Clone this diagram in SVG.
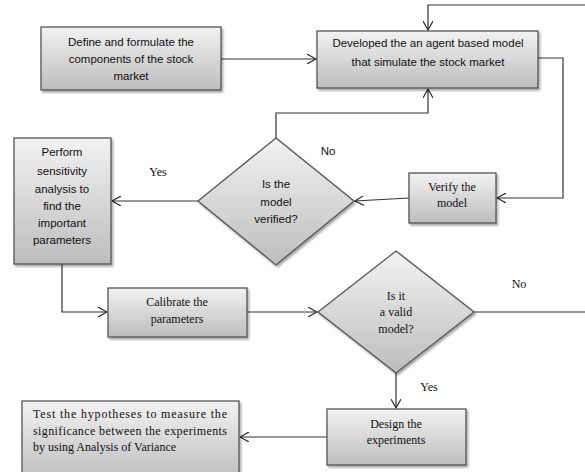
<svg xmlns="http://www.w3.org/2000/svg" width="585" height="472" viewBox="0 0 585 472">
<defs>
<linearGradient id="g" x1="0" y1="0" x2="0" y2="1">
<stop offset="0" stop-color="#f2f2f2"/>
<stop offset="1" stop-color="#bdbdbd"/>
</linearGradient>
<filter id="sh" x="-10%" y="-10%" width="130%" height="130%">
<feDropShadow dx="1.5" dy="2" stdDeviation="1.2" flood-color="#000" flood-opacity="0.35"/>
</filter>
<marker id="ah" viewBox="0 0 10 10" refX="9" refY="5" markerWidth="10" markerHeight="10" markerUnits="userSpaceOnUse" orient="auto">
<path d="M0,0 L9,5 L0,10" fill="none" stroke="#222" stroke-width="1.1"/>
</marker>
<style>
.box{fill:url(#g);stroke:#555;stroke-width:1.3;filter:url(#sh)}
.sans{font-family:"Liberation Sans",Arial,sans-serif;font-size:11.5px;fill:#111;text-anchor:middle}
.serif{font-family:"Liberation Serif","Times New Roman",serif;font-size:12px;fill:#111;text-anchor:middle}
.c{fill:none;stroke:#333;stroke-width:1.2}
</style>
</defs>
<rect width="585" height="472" fill="#fff"/>
<g id="connectors">
<path class="c" d="M221,59 H316" marker-end="url(#ah)"/>
<path class="c" d="M585,5 H428 V30" marker-end="url(#ah)"/>
<path class="c" d="M538,58 H563 V198 H497" marker-end="url(#ah)"/>
<path class="c" d="M409,198 L355,201" marker-end="url(#ah)"/>
<path class="c" d="M276,138 V113 H428 V89" marker-end="url(#ah)"/>
<path class="c" d="M198,201 H112" marker-end="url(#ah)"/>
<path class="c" d="M62,264 V312 H107" marker-end="url(#ah)"/>
<path class="c" d="M247,312 H317" marker-end="url(#ah)"/>
<path class="c" d="M474,312 H585"/>
<path class="c" d="M396,373 V408" marker-end="url(#ah)"/>
<path class="c" d="M327,437 H240" marker-end="url(#ah)"/>
<text class="sans" x="328" y="155">No</text>
<text class="serif" x="158" y="176">Yes</text>
<text class="serif" x="519" y="288">No</text>
<text class="serif" x="429" y="391">Yes</text>
</g>
<g id="define">
<rect class="box" x="41" y="27" width="180" height="63"/>
<text class="sans" x="131" y="46">Define and formulate the</text>
<text class="sans" x="131" y="63">components of the stock</text>
<text class="sans" x="131" y="80">market</text>
</g>
<g id="develop">
<rect class="box" x="317" y="31" width="221" height="57"/>
<text class="sans" x="428" y="47">Developed the an agent based model</text>
<text class="sans" x="428" y="66">that simulate the stock market</text>
</g>
<g id="verify">
<rect class="box" x="409" y="173" width="87" height="50"/>
<text class="serif" x="452" y="191">Verify the</text>
<text class="serif" x="452" y="207">model</text>
</g>
<g id="verified">
<polygon class="box" points="276,138 354,201 276,265 198,201"/>
<text class="sans" x="276" y="188">Is the</text>
<text class="sans" x="276" y="206">model</text>
<text class="sans" x="276" y="223">verified?</text>
</g>
<g id="sensitivity">
<rect class="box" x="14" y="138" width="97" height="126"/>
<text class="sans" x="62" y="156">Perform</text>
<text class="sans" x="62" y="175">sensitivity</text>
<text class="sans" x="62" y="193">analysis to</text>
<text class="sans" x="62" y="210">find the</text>
<text class="sans" x="62" y="227">important</text>
<text class="sans" x="62" y="244">parameters</text>
</g>
<g id="calibrate">
<rect class="box" x="108" y="288" width="139" height="49"/>
<text class="serif" x="177" y="306">Calibrate the</text>
<text class="serif" x="177" y="323">parameters</text>
</g>
<g id="valid">
<polygon class="box" points="396,251 474,312 396,373 318,312"/>
<text class="serif" x="396" y="300">Is it</text>
<text class="serif" x="396" y="316">a valid</text>
<text class="serif" x="396" y="333">model?</text>
</g>
<g id="design">
<rect class="box" x="327" y="409" width="139" height="56"/>
<text class="serif" x="396" y="428">Design the</text>
<text class="serif" x="396" y="444">experiments</text>
</g>
<g id="test">
<rect class="box" x="22" y="401" width="217" height="80"/>
<text class="serif" x="33" y="418" textLength="194" lengthAdjust="spacing" style="text-anchor:start">Test the hypotheses to measure the</text>
<text class="serif" x="33" y="435" textLength="194" lengthAdjust="spacing" style="text-anchor:start">significance between the experiments</text>
<text class="serif" x="33" y="451" style="text-anchor:start">by using Analysis of Variance</text>
</g>
</svg>
